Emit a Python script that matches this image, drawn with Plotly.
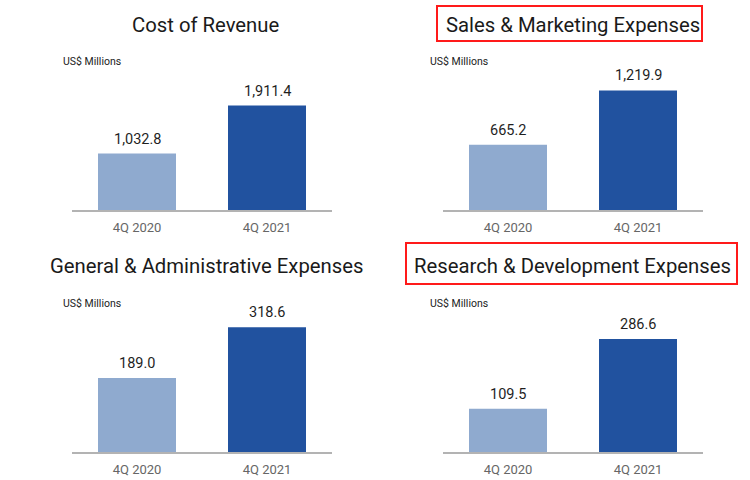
import plotly.graph_objects as go
from plotly.subplots import make_subplots

quarters = ["4Q 2020", "4Q 2021"]
titles = [
    "Cost of Revenue",
    "Sales & Marketing Expenses",
    "General & Administrative Expenses",
    "Research & Development Expenses",
]
cost_of_revenue = [1032.8, 1911.4]
sales_marketing = [665.2, 1219.9]
general_admin = [189.0, 318.6]
research_dev = [109.5, 286.6]

series = [cost_of_revenue, sales_marketing, general_admin, research_dev]
highlighted = [False, True, False, True]

bar_colors = ["#8faacf", "#21529f"]
W, H = 750, 480
FONT = "Roboto"

# panel layout in pixels (left, right, axis-line y, top of plot area)
x_doms = [(72, 332), (443, 703)]
y_doms = [(210, 80), (452, 322)]
y_max = [2378, 1327, 332, 330]
title_y = [25, 266]
title_x = [206, 572.5]
unit_x = [61, 428]
unit_y = [62, 303]
boxes = {1: (437, 702, 6, 41), 3: (406, 737, 243, 284)}

fig = make_subplots(rows=2, cols=2)

for i, vals in enumerate(series):
    r, c = i // 2, i % 2
    fig.add_trace(
        go.Bar(x=quarters, y=vals, marker=dict(color=bar_colors, line=dict(width=0)),
               width=0.6, showlegend=False, hoverinfo="skip"),
        row=r + 1, col=c + 1,
    )
    n = "" if i == 0 else str(i + 1)
    x0, x1 = x_doms[c]
    yb, yt = y_doms[r]
    fig.layout["xaxis" + n].update(
        domain=[x0 / W, x1 / W], showline=True, linecolor="#b3b3b3", linewidth=1.5,
        showgrid=False, zeroline=False, ticks="", ticklabelstandoff=5,
        tickfont=dict(family=FONT, size=13, color="#666666"), fixedrange=True,
    )
    fig.layout["yaxis" + n].update(
        domain=[1 - yb / H, 1 - yt / H], range=[0, y_max[i]], visible=False,
        fixedrange=True,
    )
    for q, v in zip(quarters, vals):
        fig.add_annotation(
            x=q, y=v, xref="x" + n, yref="y" + n, text=f"{v:,.1f}", showarrow=False,
            yanchor="bottom", yshift=4, font=dict(family=FONT, size=14.5, color="#1f1f1f"),
        )
    fig.add_annotation(
        x=title_x[c] / W, y=1 - title_y[r] / H, xref="paper", yref="paper",
        text=titles[i], showarrow=False, xanchor="center", yanchor="middle",
        font=dict(family=FONT, size=20.3, color="#1a1a1a"),
    )
    fig.add_annotation(
        x=unit_x[c] / W, y=1 - unit_y[r] / H, xref="paper", yref="paper",
        text="US$ Millions", showarrow=False, xanchor="left", yanchor="middle",
        font=dict(family=FONT, size=10.5, color="#222222"),
    )
    if highlighted[i]:
        bx0, bx1, by0, by1 = boxes[i]
        fig.add_shape(
            type="rect", xref="paper", yref="paper",
            x0=bx0 / W, x1=bx1 / W, y0=1 - by0 / H, y1=1 - by1 / H,
            line=dict(color="#ff1a1a", width=2),
        )

fig.update_layout(
    width=W, height=H, margin=dict(l=0, r=0, t=0, b=0),
    paper_bgcolor="white", plot_bgcolor="white",
    bargap=0.4, font=dict(family=FONT),
)

# drop the browser's default page margin so the figure fills the window
fig.write_html(
    "out.html",
    config={"displayModeBar": False},
    post_script="document.body.style.margin='0';",
)
